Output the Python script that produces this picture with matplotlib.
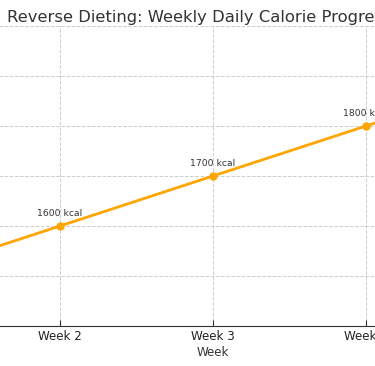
import matplotlib.pyplot as plt

weeks = ['Week 1', 'Week 2', 'Week 3', 'Week 4', 'Week 5']
calories = [1500, 1600, 1700, 1800, 1900]

fig = plt.figure(figsize=(3.75, 3.66), dpi=100)
# the reference shows only a slice of a wider plot, so the axes run past the figure edges
ax = fig.add_axes([-0.452, 0.1093, 2.04, 0.8197])

x = list(range(len(weeks)))
ax.plot(x, calories, color='#FFA500', linewidth=2, marker='o', markersize=5)
for xi, c in zip(x, calories):
    ax.annotate(f'{c} kcal', (xi, c), xytext=(0, 6), textcoords='offset points',
                ha='center', va='bottom', fontsize=6.7, color='#333333')

ax.set_xticks(x)
ax.set_xticklabels(weeks, fontsize=8.6, color='#222222')
ax.set_xlim(-0.5, 4.5)
ax.set_ylim(1400, 2000)
ax.set_yticks([1400, 1500, 1600, 1700, 1800, 1900, 2000])
ax.tick_params(axis='y', left=False, labelleft=False)
ax.tick_params(axis='x', color='#333333', length=4, direction='in', pad=3)
ax.set_xlabel('Week', fontsize=8.6, color='#333333', labelpad=2)
fig.text(7 / 375, 0.94, 'Reverse Dieting: Weekly Daily Calorie Progression',
         fontsize=11.8, color='#333333', ha='left', va='baseline')
ax.grid(True, linestyle='--', color='#cccccc', linewidth=0.7)
for s in ['top', 'right', 'left']:
    ax.spines[s].set_visible(False)
ax.spines['bottom'].set_color('#333333')

plt.savefig('out.png', dpi=100)
